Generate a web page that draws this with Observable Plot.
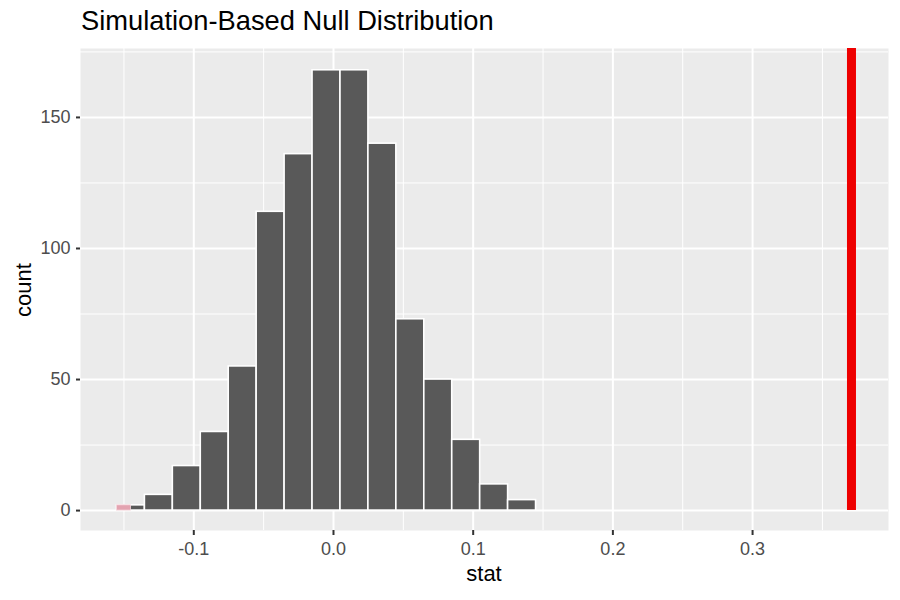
<!DOCTYPE html>
<html>
<head>
<meta charset="utf-8">
<script src="https://cdn.jsdelivr.net/npm/d3@7"></script>
<script src="https://cdn.jsdelivr.net/npm/@observablehq/plot@0.6"></script>
<style>
  html, body { margin: 0; padding: 0; background: #fff; }
  #wrap { position: relative; width: 900px; height: 600px; font-family: "Liberation Sans", Arial, Helvetica, sans-serif; }
  #wrap svg { position: absolute; left: 0; top: 0; }
  .title { position: absolute; left: 81px; top: 7px; font-size: 27.3px; line-height: 27px; color: #000; white-space: nowrap; }
  .xlab { position: absolute; left: 484px; top: 563px; transform: translateX(-50%); font-size: 22px; line-height: 22px; color: #000; }
  .ylab { position: absolute; left: 24px; top: 290px; transform: translate(-50%, -50%) rotate(-90deg); font-size: 22px; line-height: 22px; color: #000; }
</style>
</head>
<body>
<div id="wrap">
  <div class="title">Simulation-Based Null Distribution</div>
  <div class="xlab">stat</div>
  <div class="ylab">count</div>
</div>
<script>
// Histogram bin edges (stat) and counts
const binLo  = [-0.155, -0.135, -0.115, -0.095, -0.075, -0.055, -0.035, -0.015, 0.005, 0.025, 0.045, 0.065, 0.085, 0.105, 0.125];
const binHi  = [-0.135, -0.115, -0.095, -0.075, -0.055, -0.035, -0.015, 0.005, 0.025, 0.045, 0.065, 0.085, 0.105, 0.125, 0.145];
const counts = [2, 6, 17, 30, 55, 114, 136, 168, 168, 140, 73, 50, 27, 10, 4];

// Shaded p-value region (pink) and observed statistic
const shadeLo = [-0.155];
const shadeHi = [-0.145];
const shadeCount = [2];
const observedStat = 0.3708;

// Axis ticks
const xTicks = [-0.1, 0.0, 0.1, 0.2, 0.3];
const xTickLabels = ["-0.1", "0.0", "0.1", "0.2", "0.3"];
const xMinor = [-0.15, -0.05, 0.05, 0.15, 0.25, 0.35];
const yTicks = [0, 50, 100, 150];
const yMinor = [25, 75, 125, 175];

const xDomain = [-0.1811, 0.3973];
const yDomain = [-7.6, 176.3];

const bars = binLo.map((lo, i) => ({lo, hi: binHi[i], n: counts[i]}));
const shade = shadeLo.map((lo, i) => ({lo, hi: shadeHi[i], n: shadeCount[i]}));

const chart = Plot.plot({
  width: 900,
  height: 600,
  marginLeft: 80,
  marginRight: 12,
  marginTop: 48,
  marginBottom: 70,
  style: {fontFamily: '"Liberation Sans", Arial, Helvetica, sans-serif', background: "transparent"},
  x: {domain: xDomain},
  y: {domain: yDomain},
  marks: [
    Plot.frame({fill: "#EBEBEB", stroke: null}),
    Plot.ruleX(xMinor, {stroke: "#fff", strokeWidth: 1}),
    Plot.ruleY(yMinor, {stroke: "#fff", strokeWidth: 1}),
    Plot.ruleX(xTicks, {stroke: "#fff", strokeWidth: 2}),
    Plot.ruleY(yTicks, {stroke: "#fff", strokeWidth: 2}),
    Plot.rectY(bars, {x1: "lo", x2: "hi", y1: 0, y2: "n", fill: "#595959", stroke: "#fff", strokeWidth: 1.6}),
    Plot.rectY(shade, {x1: "lo", x2: "hi", y1: 0, y2: "n", fill: "#e3a3b0", stroke: "#f4d6dc", strokeWidth: 0.8}),
    Plot.ruleX([observedStat], {y1: 0, y2: yDomain[1], stroke: "#EE0000", strokeWidth: 9}),
    Plot.axisX(xTicks, {tickFormat: (d, i) => xTickLabels[i], tickSize: 5, tickPadding: 7, stroke: "#333", strokeWidth: 2, fill: "#4D4D4D", fontSize: 18, label: null}),
    Plot.axisY(yTicks, {tickSize: 4, tickPadding: 6, stroke: "#333", strokeWidth: 2, fill: "#4D4D4D", fontSize: 18, label: null})
  ]
});
document.getElementById("wrap").appendChild(chart);
</script>
</body>
</html>
